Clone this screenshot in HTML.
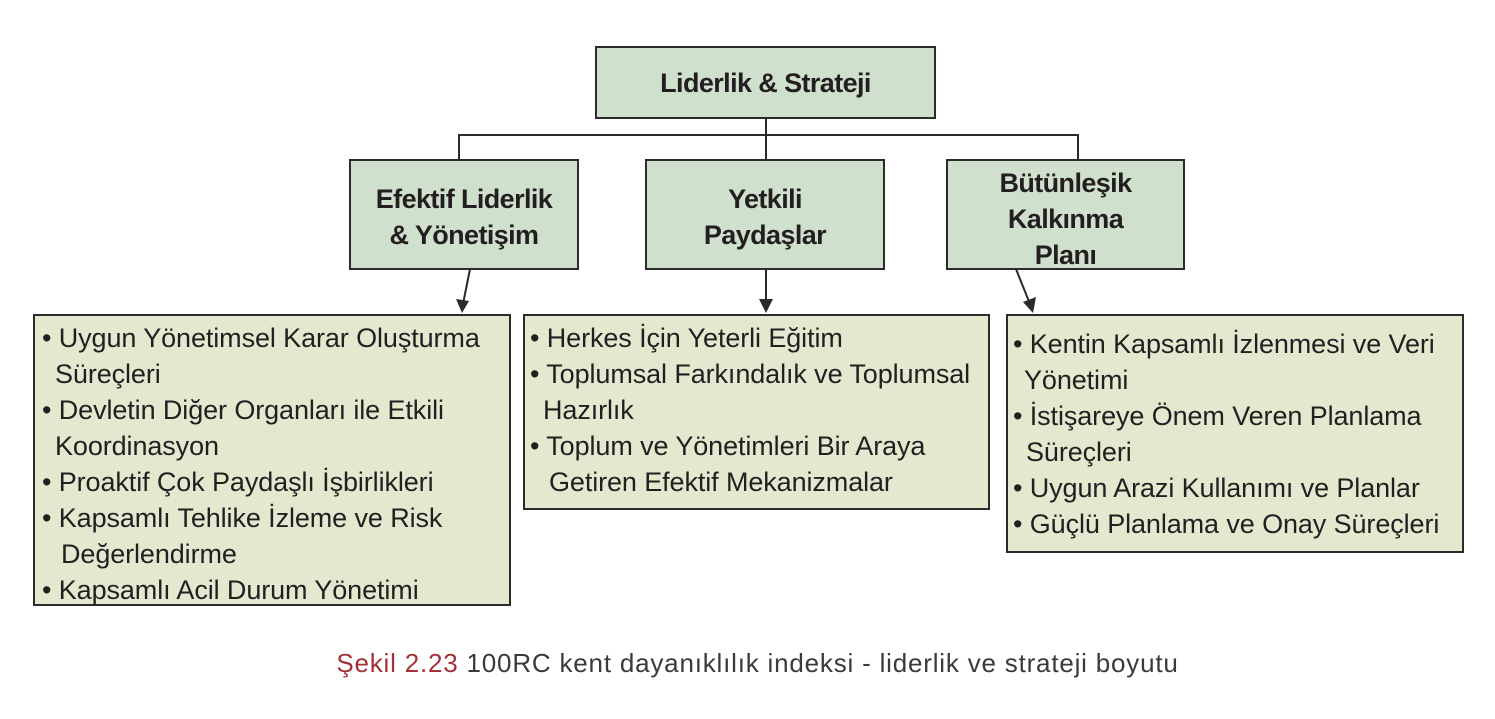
<!DOCTYPE html>
<html><head><meta charset="utf-8"><style>
body{margin:0;width:1495px;height:719px;background:#fff;position:relative;overflow:hidden;font-family:"Liberation Sans",sans-serif;color:#231f20}
.b{position:absolute;border:2px solid #2b2b2b;box-sizing:border-box}
.h{background:#cfe0cc;font-weight:bold;font-size:27px;display:flex;align-items:center;justify-content:center;text-align:center;line-height:36px;letter-spacing:-0.6px}
.l{background:#e3e9cf}
.t{position:absolute;font-size:27px;white-space:nowrap;line-height:36px;letter-spacing:-0.1px}
</style></head><body>
<svg width="1495" height="719" style="position:absolute;left:0;top:0">
<g stroke="#2b2b2b" stroke-width="2" fill="none">
<path d="M766 118V135M459 159V135H1078V159M766 135V159"/>
<path d="M470 269L463 304M766 269V304M1016 269L1030 304"/>
</g>
<g fill="#2b2b2b">
<path d="M462 313L456 299L469 301Z"/>
<path d="M766 313L759 299L773 299Z"/>
<path d="M1033 313L1023 302L1036 297Z"/>
</g>
</svg>
<div class="b h" style="left:595px;top:46px;width:341px;height:73px">Liderlik &amp; Strateji</div>
<div class="b h" style="left:349px;top:159px;width:230px;height:111px;padding-top:4px">Efektif Liderlik<br>&amp; Yönetişim</div>
<div class="b h" style="left:645px;top:159px;width:240px;height:111px;padding-top:4px">Yetkili<br>Paydaşlar</div>
<div class="b h" style="left:946px;top:159px;width:239px;height:111px;padding-top:8px">Bütünleşik<br>Kalkınma<br>Planı</div>
<div class="b l" style="left:33px;top:314px;width:478px;height:292px"></div>
<div class="b l" style="left:523px;top:314px;width:467px;height:196px"></div>
<div class="b l" style="left:1006px;top:314px;width:458px;height:239px"></div>
<div class="t" style="left:42px;top:320px">• Uygun Yönetimsel Karar Oluşturma</div>
<div class="t" style="left:55px;top:356px">Süreçleri</div>
<div class="t" style="left:42px;top:392px">• Devletin Diğer Organları ile Etkili</div>
<div class="t" style="left:55px;top:428px">Koordinasyon</div>
<div class="t" style="left:42px;top:464px">• Proaktif Çok Paydaşlı İşbirlikleri</div>
<div class="t" style="left:42px;top:500px">• Kapsamlı Tehlike İzleme ve Risk</div>
<div class="t" style="left:61px;top:536px">Değerlendirme</div>
<div class="t" style="left:42px;top:572px">• Kapsamlı Acil Durum Yönetimi</div>
<div class="t" style="left:530px;top:320px">• Herkes İçin Yeterli Eğitim</div>
<div class="t" style="left:530px;top:356px">• Toplumsal Farkındalık ve Toplumsal</div>
<div class="t" style="left:543px;top:392px">Hazırlık</div>
<div class="t" style="left:530px;top:428px">• Toplum ve Yönetimleri Bir Araya</div>
<div class="t" style="left:549px;top:464px">Getiren Efektif Mekanizmalar</div>
<div class="t" style="left:1013px;top:326px">• Kentin Kapsamlı İzlenmesi ve Veri</div>
<div class="t" style="left:1024px;top:362px">Yönetimi</div>
<div class="t" style="left:1013px;top:398px">• İstişareye Önem Veren Planlama</div>
<div class="t" style="left:1026px;top:434px">Süreçleri</div>
<div class="t" style="left:1013px;top:470px">• Uygun Arazi Kullanımı ve Planlar</div>
<div class="t" style="left:1013px;top:506px">• Güçlü Planlama ve Onay Süreçleri</div>
<div class="t" style="left:0;width:1495px;text-align:center;top:645px;font-size:26px;color:#3a3a3a;letter-spacing:0.8px;padding-left:10px"><span style="color:#a3313a">Şekil 2.23</span> 100RC kent dayanıklılık indeksi - liderlik ve strateji boyutu</div>
</body></html>
